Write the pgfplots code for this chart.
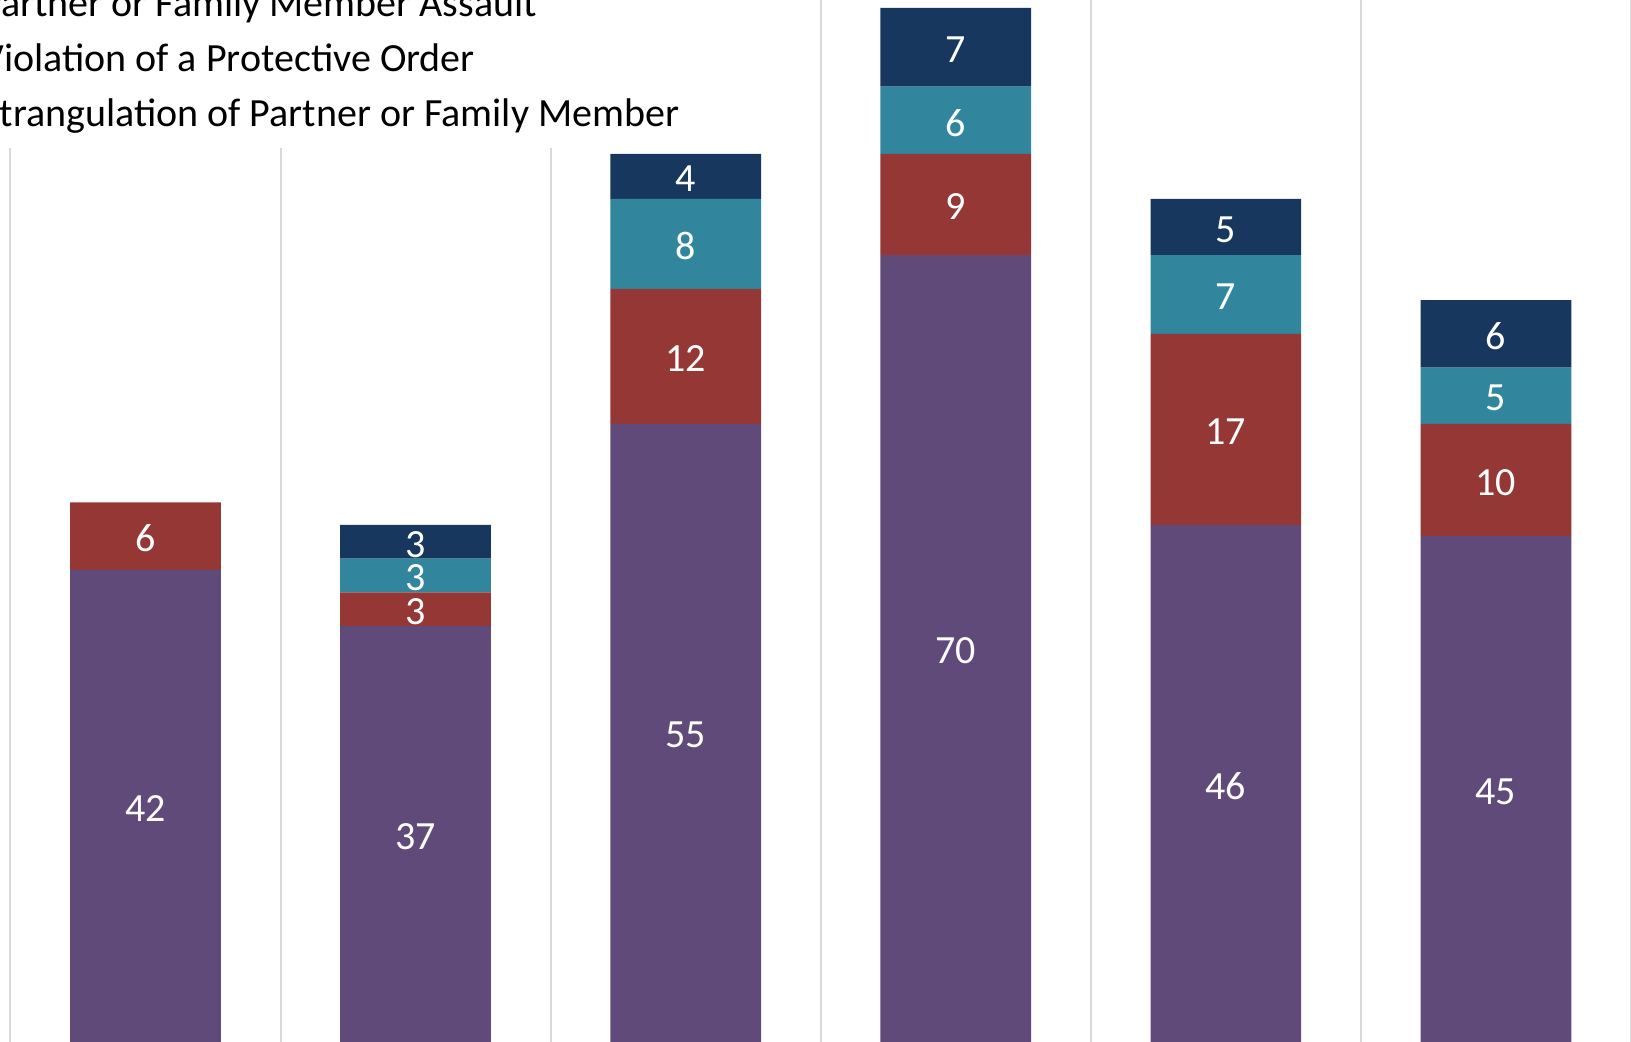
\documentclass[border=0pt]{standalone}
\usepackage{pgfplots}
\pgfplotsset{compat=1.18}
\usepackage{fontspec}
\setmainfont{Carlito}

\definecolor{cPurple}{HTML}{5F4A7A}
\definecolor{cRed}{HTML}{953735}
\definecolor{cTeal}{HTML}{31859C}
\definecolor{cNavy}{HTML}{17375E}
\definecolor{cGrid}{HTML}{D9D9D9}

\begin{document}
\begin{tikzpicture}
\path[use as bounding box, clip] (0,0) rectangle (815.5pt,521pt);

\begin{axis}[
  at={(0,0)}, anchor=south west,
  width=815.5pt, height=521pt,
  scale only axis,
  ybar stacked,
  bar width=0.558,
  xmin=-0.5385, xmax=5.5,
  ymin=0, ymax=92.7,
  xtick={-0.5,0.5,...,5.5},
  xticklabels={},
  ytick=\empty,
  xmajorgrids,
  grid style={cGrid, line width=1pt},
  axis line style={draw=none},
  tick style={draw=none},
  /pgf/number format/assume math mode=true,
  nodes near coords={\pgfmathfloatifflags{\pgfplotspointmeta}{0}{}{\pgfmathprintnumber{\pgfplotspointmeta}}},
  every node near coord/.append style={
    font=\fontsize{20}{24}\selectfont, text=white, anchor=center, yshift=-1.2pt
  },
  legend cell align=left,
  legend image code/.code={},
  legend style={
    at={(rel axis cs:-0.01876,0.8578)}, anchor=south west,
    draw=none, fill=white, inner sep=5.8pt,
    font=\fontsize{20}{24}\selectfont,
    nodes={text height=14pt, text depth=5pt, inner sep=0pt},
    row sep=8.5pt
  },
]
\addplot[fill=cPurple, draw=none] coordinates {(0,42) (1,37) (2,55) (3,70) (4,46) (5,45)};
\addlegendentry{Partner or Family Member Assault}
\addplot[fill=cRed, draw=none] coordinates {(0,6) (1,3) (2,12) (3,9) (4,17) (5,10)};
\addlegendentry{Violation of a Protective Order}
\addplot[fill=cTeal, draw=none] coordinates {(0,0) (1,3) (2,8) (3,6) (4,7) (5,5)};
\addlegendentry{Strangulation of Partner or Family Member}
\addplot[fill=cNavy, draw=none] coordinates {(0,0) (1,3) (2,4) (3,7) (4,5) (5,6)};
\end{axis}
\end{tikzpicture}
\end{document}
